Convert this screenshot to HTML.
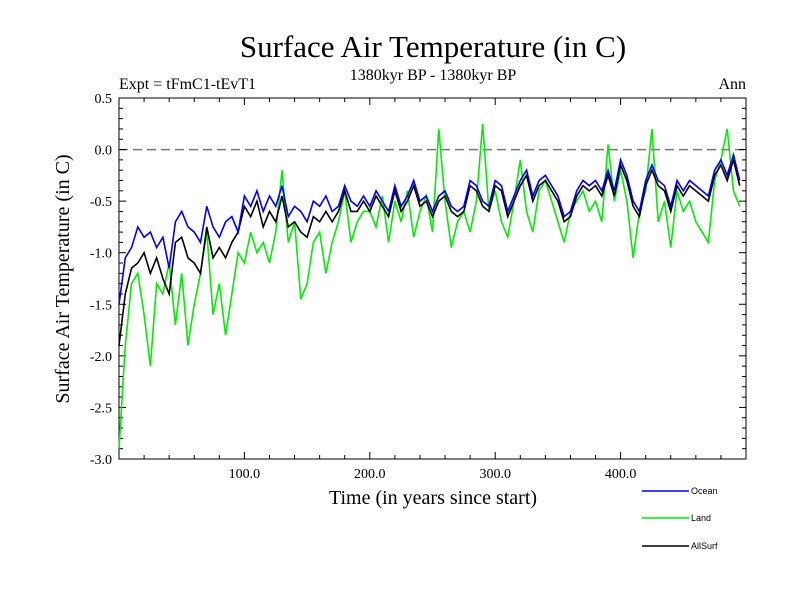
<!DOCTYPE html>
<html><head><meta charset="utf-8"><style>
body{margin:0;background:#fff}
svg{display:block;font-family:"Liberation Serif",serif}
</style></head><body>
<svg id="chart" width="800" height="600">
<text x="433" y="57" font-size="31" text-anchor="middle">Surface Air Temperature (in C)</text>
<text x="433" y="80" font-size="16" text-anchor="middle">1380kyr BP - 1380kyr BP</text>
<text x="119" y="89" font-size="16">Expt = tFmC1-tEvT1</text>
<text x="746" y="89" font-size="16" text-anchor="end">Ann</text>
<text x="433" y="504" font-size="20" text-anchor="middle">Time (in years since start)</text>
<text transform="translate(69,279) rotate(-90)" font-size="20" text-anchor="middle">Surface Air Temperature (in C)</text>
<g id="axes"></g>
<g id="series"></g>
<g id="legend" font-family="Liberation Sans, sans-serif" font-size="9"></g>
</svg>
<script>
const years=[];for(let i=0;i<100;i++)years.push(i*5);
const ocean=[-1.5,-1.05,-0.95,-0.75,-0.85,-0.8,-0.95,-0.85,-1.15,-0.7,-0.6,-0.75,-0.8,-0.9,-0.55,-0.75,-0.85,-0.7,-0.65,-0.8,
-0.45,-0.55,-0.4,-0.6,-0.45,-0.55,-0.35,-0.65,-0.55,-0.6,-0.7,-0.5,-0.55,-0.45,-0.6,-0.55,-0.35,-0.5,-0.55,-0.45,
-0.55,-0.4,-0.5,-0.6,-0.35,-0.55,-0.45,-0.3,-0.5,-0.45,-0.6,-0.45,-0.4,-0.55,-0.6,-0.55,-0.3,-0.35,-0.5,-0.55,
-0.3,-0.35,-0.6,-0.45,-0.3,-0.2,-0.45,-0.3,-0.25,-0.35,-0.45,-0.65,-0.6,-0.4,-0.3,-0.35,-0.3,-0.4,-0.2,-0.4,
-0.1,-0.25,-0.5,-0.6,-0.3,-0.15,-0.3,-0.35,-0.55,-0.3,-0.4,-0.3,-0.35,-0.4,-0.45,-0.2,-0.1,-0.25,-0.05,-0.3];
const land=[-2.9,-1.9,-1.3,-1.2,-1.6,-2.1,-1.3,-1.4,-1.1,-1.7,-1.2,-1.9,-1.5,-1.2,-0.8,-1.6,-1.3,-1.8,-1.4,-1.0,
-1.1,-0.8,-1.0,-0.9,-1.1,-0.8,-0.2,-0.9,-0.7,-1.45,-1.3,-0.9,-0.8,-1.2,-0.9,-0.7,-0.4,-0.9,-0.7,-0.6,
-0.6,-0.75,-0.45,-0.9,-0.5,-0.7,-0.4,-0.85,-0.6,-0.45,-0.8,0.2,-0.5,-0.95,-0.7,-0.6,-0.8,-0.5,0.25,-0.6,
-0.4,-0.7,-0.85,-0.5,-0.1,-0.6,-0.8,-0.4,-0.3,-0.5,-0.7,-0.9,-0.6,-0.5,-0.4,-0.6,-0.5,-0.7,0.05,-0.5,
-0.2,-0.5,-1.05,-0.6,-0.4,0.2,-0.7,-0.5,-0.95,-0.4,-0.6,-0.5,-0.7,-0.8,-0.9,-0.3,-0.1,0.2,-0.4,-0.55];
const allsurf=[-1.9,-1.4,-1.15,-1.1,-1.0,-1.2,-1.05,-1.25,-1.4,-0.9,-0.85,-1.05,-1.1,-1.2,-0.75,-1.05,-0.95,-1.05,-0.9,-0.8,
-0.55,-0.65,-0.5,-0.75,-0.6,-0.7,-0.45,-0.75,-0.7,-0.8,-0.85,-0.65,-0.7,-0.6,-0.7,-0.6,-0.4,-0.6,-0.6,-0.5,
-0.6,-0.45,-0.55,-0.65,-0.4,-0.6,-0.5,-0.35,-0.55,-0.5,-0.65,-0.5,-0.45,-0.6,-0.65,-0.6,-0.35,-0.4,-0.55,-0.6,
-0.35,-0.4,-0.65,-0.5,-0.35,-0.25,-0.5,-0.35,-0.3,-0.4,-0.5,-0.7,-0.65,-0.45,-0.35,-0.4,-0.35,-0.45,-0.25,-0.45,
-0.15,-0.3,-0.55,-0.65,-0.35,-0.2,-0.35,-0.4,-0.6,-0.35,-0.45,-0.35,-0.4,-0.45,-0.5,-0.25,-0.15,-0.3,-0.1,-0.35];
const yTicks=[0.5,0.0,-0.5,-1.0,-1.5,-2.0,-2.5,-3.0];
const yTickLabels=["0.5","0.0","-0.5","-1.0","-1.5","-2.0","-2.5","-3.0"];
const xTicks=[100,200,300,400];
const xTickLabels=["100.0","200.0","300.0","400.0"];
const X0=119,X1=746,Y0=98,Y1=459;
const xs=v=>X0+(v-0)/(500-0)*(X1-X0);
const ys=v=>Y0+(0.5-v)/(3.5)*(Y1-Y0);
const NS="http://www.w3.org/2000/svg";
function mk(t,a,p){const e=document.createElementNS(NS,t);for(const k in a)e.setAttribute(k,a[k]);p.appendChild(e);return e;}
const ax=document.getElementById('axes');
let f=mk('rect',{x:X0,y:Y0,width:X1-X0,height:Y1-Y0,fill:'none',stroke:'#000','stroke-width':1},ax);


let z=mk('line',{x1:X0,x2:X1,y1:ys(0),y2:ys(0),stroke:'#777','stroke-width':1.5,'stroke-dasharray':'9,5'},ax);


for(let v=-3.0;v<=0.5001;v+=0.1){const y=ys(v);const maj=Math.abs(v*2-Math.round(v*2))<0.01;const L=maj?7:4;
mk('line',{x1:X0,x2:X0+L,y1:y,y2:y,stroke:'#000'},ax);mk('line',{x1:X1,x2:X1-L,y1:y,y2:y,stroke:'#000'},ax);}
for(let v=20;v<500;v+=20){const x=xs(v);const maj=v%100===0;const L=maj?7:4;
mk('line',{x1:x,x2:x,y1:Y1,y2:Y1-L,stroke:'#000'},ax);mk('line',{x1:x,x2:x,y1:Y0,y2:Y0+L,stroke:'#000'},ax);}
yTicks.forEach((v,i)=>{const t=mk('text',{x:112,y:ys(v)+5,'font-size':14,'text-anchor':'end'},ax);t.textContent=yTickLabels[i];

});
xTicks.forEach((v,i)=>{const t=mk('text',{x:xs(v),y:478,'font-size':14,'text-anchor':'middle'},ax);t.textContent=xTickLabels[i];

});
const sg=document.getElementById('series');
function line(d,c,n){const p=mk('polyline',{points:d.map((v,i)=>xs(years[i])+','+ys(v)).join(' '),fill:'none',stroke:c,'stroke-width':1.6},sg);

}
line(land,'#00ee00','land-line');
line(allsurf,'#000','allsurf-line');
line(ocean,'#0000ee','ocean-line');
const lg=document.getElementById('legend');
[['Ocean','#0000ee',491],['Land','#00ee00',518],['AllSurf','#000',546]].forEach(([n,c,y])=>{
const g=mk('g',{},lg);


mk('line',{x1:642,x2:689,y1:y,y2:y,stroke:c,'stroke-width':1.5},g);
const t=mk('text',{x:691,y:y+3},g);t.textContent=n;});
</script>
</body></html>
